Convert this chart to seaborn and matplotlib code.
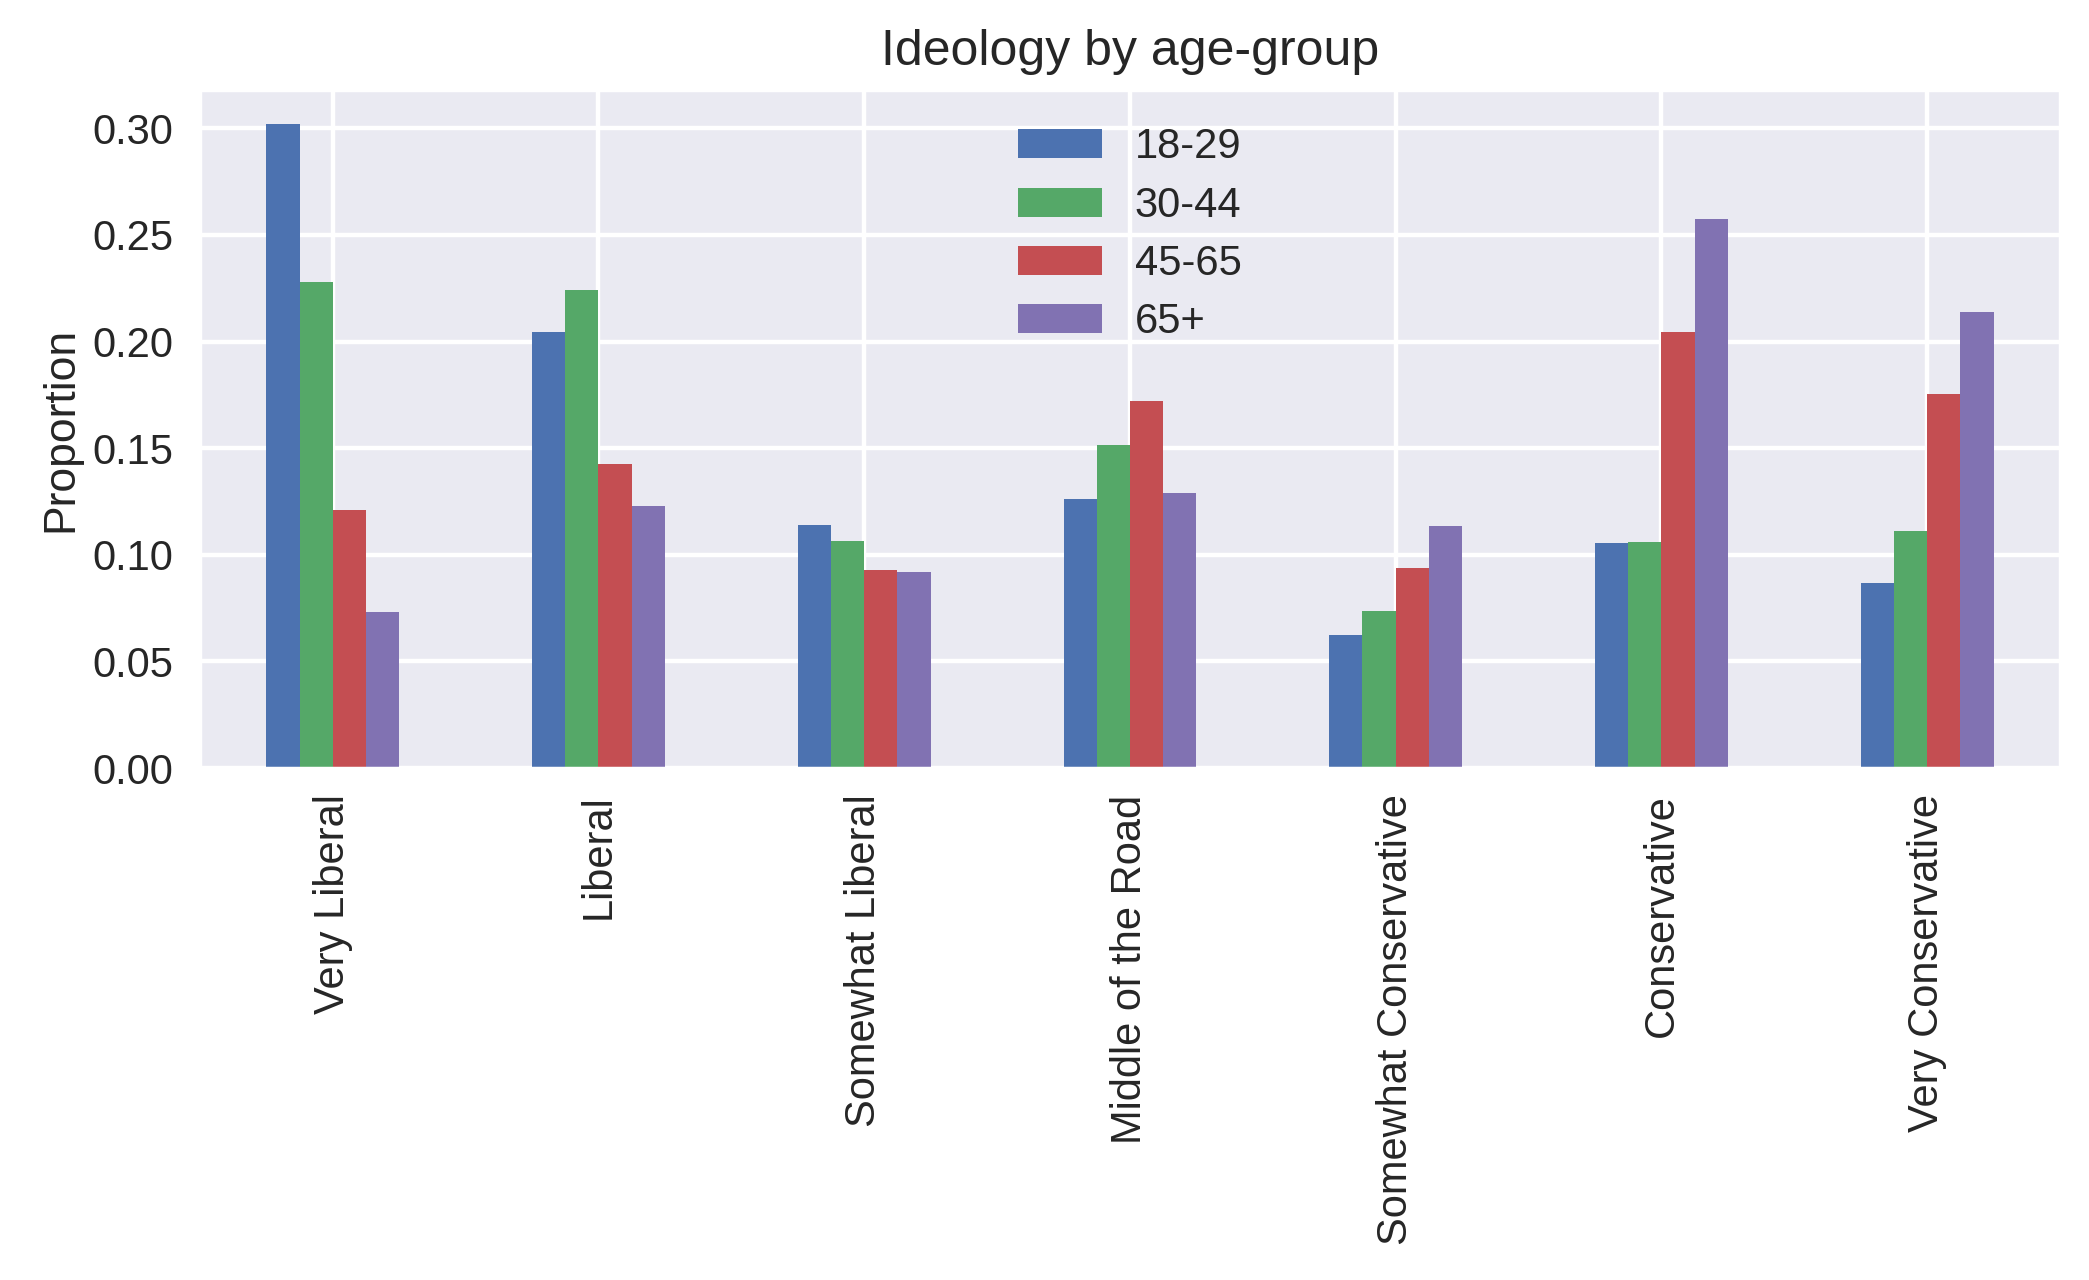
import matplotlib
matplotlib.use("Agg")
import matplotlib.pyplot as plt
import seaborn as sns
import pandas as pd

ideologies = ["Very Liberal", "Liberal", "Somewhat Liberal", "Middle of the Road",
              "Somewhat Conservative", "Conservative", "Very Conservative"]
age_groups = ["18-29", "30-44", "45-65", "65+"]
v_18_29 = [0.302, 0.2044, 0.114, 0.126, 0.0624, 0.1054, 0.0867]
v_30_44 = [0.2281, 0.2244, 0.1067, 0.1516, 0.0736, 0.106, 0.111]
v_45_65 = [0.1208, 0.1427, 0.093, 0.172, 0.0936, 0.2046, 0.1753]
v_65p = [0.0731, 0.1231, 0.0917, 0.129, 0.1135, 0.2576, 0.214]

rows = []
for g, vals in zip(age_groups, [v_18_29, v_30_44, v_45_65, v_65p]):
    for ide, v in zip(ideologies, vals):
        rows.append({"Ideology": ide, "Age": g, "Proportion": v})
df = pd.DataFrame(rows)

sns.set_theme(style="darkgrid")
plt.rcParams['font.family'] = ['Liberation Sans', 'DejaVu Sans']
colors = ["#4C72B0", "#55A868", "#C44E52", "#8172B2"]

fig = plt.figure(figsize=(2089 / 200, 1280 / 200), dpi=200)
ax = fig.add_axes([0.0957, 0.4, 0.8904, 0.5297])
sns.barplot(data=df, x="Ideology", y="Proportion", hue="Age", order=ideologies,
            hue_order=age_groups, palette=colors, width=0.5, gap=0,
            saturation=1, errorbar=None, ax=ax, linewidth=0)
ax.set_xlim(-0.5, 6.5)
ax.set_ylim(0, 0.318)
ax.grid(True, axis='both', color='white', linewidth=1.6)
ax.set_axisbelow(True)
ax.set_yticks([0, 0.05, 0.10, 0.15, 0.20, 0.25, 0.30])
ax.set_yticklabels(["0.00", "0.05", "0.10", "0.15", "0.20", "0.25", "0.30"], fontsize=15)
ax.set_xticks(range(len(ideologies)))
ax.set_xticklabels(ideologies, rotation=90, fontsize=15)
ax.set_xlabel("")
ax.set_ylabel("Proportion", fontsize=16)
ax.set_title("Ideology by age-group", fontsize=18, pad=9)
ax.tick_params(axis='both', colors='#262626')
ax.legend(loc="upper center", frameon=False, fontsize=15, handlelength=2.0,
          handleheight=0.7, labelspacing=0.44)
fig.savefig("out.png", dpi=200)
